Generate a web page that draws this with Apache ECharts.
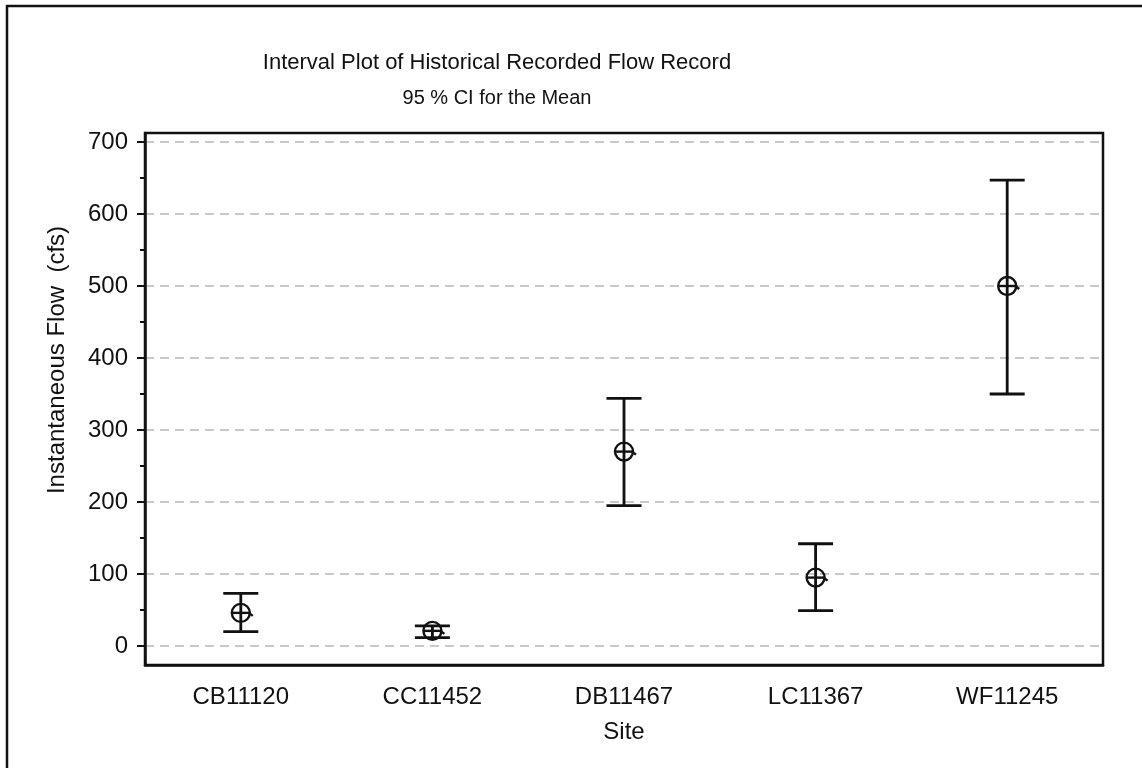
<!DOCTYPE html>
<html>
<head>
<meta charset="utf-8">
<title>Interval Plot</title>
<script src="https://cdn.jsdelivr.net/npm/echarts@6/dist/echarts.min.js"></script>
<style>
	html, body { margin: 0; padding: 0; background: #fff; }
	#main { width: 1142px; height: 768px; }
</style>
</head>
<body>
<div id="main"></div>
<script>
var sites = ['CB11120', 'CC11452', 'DB11467', 'LC11367', 'WF11245'];
var means = [46, 21, 270, 95, 500];
var lower = [20, 11.5, 195, 49, 350];
var upper = [73, 28, 344, 142, 647];
var yTicks = [0, 100, 200, 300, 400, 500, 600, 700];
var yMinor = [50, 150, 250, 350, 450, 550, 650];

var ink = '#111';
var font = '"Liberation Sans", Arial, sans-serif';

function renderItem(params, api) {
	var i = api.value(0);
	var m = api.coord([i, api.value(1)]);
	var lo = api.coord([i, api.value(2)]);
	var hi = api.coord([i, api.value(3)]);
	var w = 17.5, r = 9;
	var st = { stroke: ink, lineWidth: 2.8, fill: null };
	var thin = { stroke: ink, lineWidth: 2.4 };
	return {
		type: 'group',
		children: [
			{ type: 'line', shape: { x1: lo[0], y1: lo[1], x2: hi[0], y2: hi[1] }, style: st },
			{ type: 'line', shape: { x1: hi[0] - w, y1: hi[1], x2: hi[0] + w, y2: hi[1] }, style: st },
			{ type: 'line', shape: { x1: lo[0] - w, y1: lo[1], x2: lo[0] + w, y2: lo[1] }, style: st },
			{ type: 'circle', shape: { cx: m[0], cy: m[1], r: r }, style: { stroke: ink, lineWidth: 2.4, fill: 'none' } },
			{ type: 'line', shape: { x1: m[0] - r, y1: m[1], x2: m[0] + r, y2: m[1] }, style: thin },
			{ type: 'line', shape: { x1: m[0] + r - 1, y1: m[1], x2: m[0] + r + 3, y2: m[1] + 3 }, style: thin }
		]
	};
}

var seriesData = [];
for (var i = 0; i < sites.length; i++) {
	seriesData.push([i, means[i], lower[i], upper[i]]);
}

var chart = echarts.init(document.getElementById('main'));
var option = {
	backgroundColor: '#fff',
	animation: false,
	textStyle: { fontFamily: font, color: ink },
	graphic: [
		{ type: 'rect', z: 100, shape: { x: 7, y: 6, width: 1200, height: 800 }, style: { stroke: ink, lineWidth: 2.5, fill: 'none' } },
		{ type: 'text', x: 497, y: 63, style: { text: 'Interval Plot of Historical Recorded Flow Record', font: '22px ' + font, fill: ink, textAlign: 'center', textVerticalAlign: 'middle' } },
		{ type: 'text', x: 497, y: 98, style: { text: '95 % CI for the Mean', font: '20px ' + font, fill: ink, textAlign: 'center', textVerticalAlign: 'middle' } },
		{ type: 'text', x: 57, y: 360, rotation: Math.PI / 2, style: { text: 'Instantaneous Flow  (cfs)', font: '24px ' + font, fill: ink, textAlign: 'center', textVerticalAlign: 'middle' } }
	],
	grid: {
		left: 145, right: 39, top: 133, bottom: 103,
		show: true, borderColor: ink, borderWidth: 2.5, backgroundColor: 'transparent'
	},
	xAxis: {
		type: 'category',
		data: sites,
		boundaryGap: true,
		name: 'Site',
		nameLocation: 'middle',
		nameGap: 55,
		nameTextStyle: { fontSize: 24, color: ink, fontFamily: font },
		axisLine: { onZero: false, lineStyle: { color: ink, width: 2.5 } },
		axisTick: { alignWithLabel: true, length: 9, lineStyle: { color: ink, width: 2.5 } },
		axisLabel: { fontSize: 24, color: ink, margin: 20, fontFamily: font },
		splitLine: { show: false }
	},
	yAxis: [{
		type: 'value',
		min: -26.4,
		max: 712.5,
		position: 'left',
		axisLine: { show: true, onZero: false, lineStyle: { color: ink, width: 2.5 } },
		axisTick: { show: true, length: 8, customValues: yTicks, lineStyle: { color: ink, width: 2 } },
		axisLabel: { fontSize: 24, color: ink, margin: 17, customValues: yTicks, fontFamily: font },
		splitLine: { show: true, lineStyle: { color: '#c8c8c8', width: 2, type: [9, 6] } }
	}, {
		type: 'value',
		min: -26.4,
		max: 712.5,
		position: 'left',
		offset: 0,
		axisLine: { show: false, onZero: false },
		axisTick: { show: true, length: 5, customValues: yMinor, lineStyle: { color: ink, width: 2 } },
		axisLabel: { show: false },
		splitLine: { show: false }
	}],
	series: [{
		type: 'custom',
		renderItem: renderItem,
		xAxisIndex: 0,
		yAxisIndex: 0,
		encode: { x: 0, y: [1, 2, 3] },
		data: seriesData,
		z: 10
	}]
};
chart.setOption(option);
</script>
</body>
</html>
